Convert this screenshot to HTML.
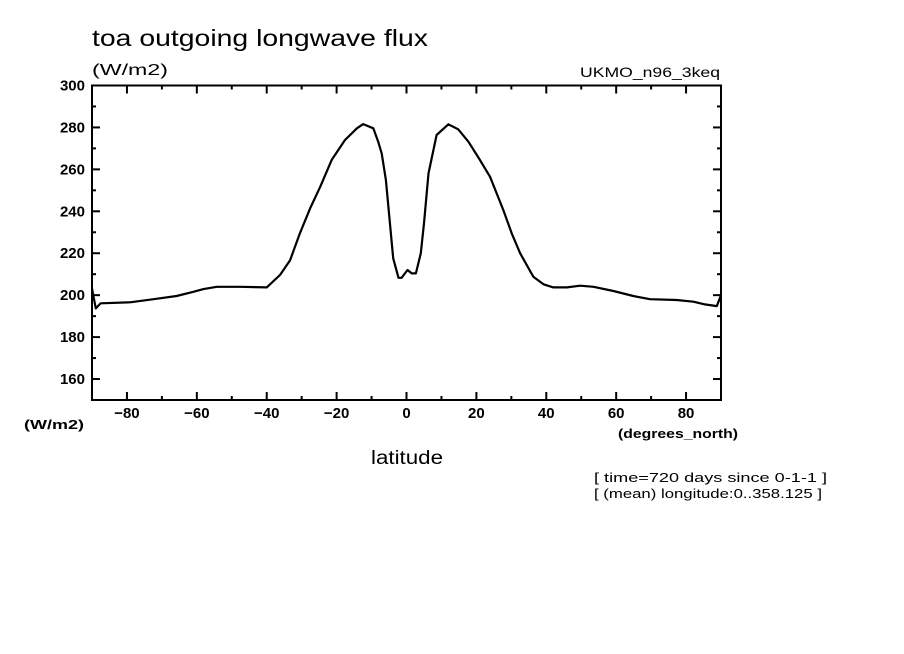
<!DOCTYPE html>
<html><head><meta charset="utf-8"><style>
body{margin:0;background:#fff;}
svg{display:block;font-family:"Liberation Sans",sans-serif;}
</style></head><body>
<svg id="chart" width="904" height="654" viewBox="0 0 904 654">
<rect width="904" height="654" fill="#fff"/>
<text x="92" y="46" font-size="23" textLength="336" lengthAdjust="spacingAndGlyphs">toa outgoing longwave flux</text>
<text x="92" y="75" font-size="16" textLength="76" lengthAdjust="spacingAndGlyphs">(W/m2)</text>
<text x="580" y="77" font-size="14" textLength="140" lengthAdjust="spacingAndGlyphs">UKMO_n96_3keq</text>
<text x="24" y="429" font-size="13" font-weight="bold" textLength="60" lengthAdjust="spacingAndGlyphs">(W/m2)</text>
<text x="618" y="438" font-size="13" font-weight="bold" textLength="120" lengthAdjust="spacingAndGlyphs">(degrees_north)</text>
<text x="371" y="464" font-size="19" textLength="72" lengthAdjust="spacingAndGlyphs">latitude</text>
<text x="594" y="482" font-size="12.5" textLength="233" lengthAdjust="spacingAndGlyphs">[ time=720 days since 0-1-1 ]</text>
<text x="594" y="498" font-size="12.5" textLength="228" lengthAdjust="spacingAndGlyphs">[ (mean) longitude:0..358.125 ]</text>
<g id="axes"></g>
<path id="series" fill="none" stroke="#000" stroke-width="2.2" stroke-linejoin="round"/>
<rect x="92" y="85.5" width="629" height="314.5" fill="none" stroke="#000" stroke-width="2"/>
</svg>
<script>
const lats = [-90,-88.9,-87.5,-79.1,-72.4,-65.8,-61,-58.1,-54.3,-47.6,-40,-36.2,-33.3,-30.5,-27.6,-24.7,-21.4,-17.6,-14.2,-12.4,-9.5,-8.1,-7.1,-5.9,-3.8,-2.3,-1.4,0.3,1.5,2.7,4.1,5,6.3,8.6,12,14.8,17.7,21,23.9,27.7,30.1,32.5,36.3,39.2,42,45.9,49.7,53.5,59.2,64.9,69.7,77.3,82.1,85.4,88.8,90];
const flux = [203.2,193.7,196.1,196.6,198.1,199.6,201.6,202.9,204,204,203.7,209.6,216.7,229.5,241.4,251.7,264.5,274,279.6,281.6,279.6,273.2,267.6,254.9,217.6,208.3,208.3,212,210.4,210.4,220,234.3,258.1,276.4,281.5,279.1,273.2,264.5,256.5,240.6,229.5,220,208.8,205.2,203.7,203.7,204.5,204,202,199.6,198.1,197.7,196.9,195.6,194.8,200];
const yTickLabels = [160,180,200,220,240,260,280,300];
const xTickLabels = [-80,-60,-40,-20,0,20,40,60,80];
const X0=92,X1=721,Y0=85.5,Y1=400,XMIN=-90,XMAX=90,YMIN=150,YMAX=300;
function xs(v){return X0+(v-XMIN)/(XMAX-XMIN)*(X1-X0);}
function ys(v){return Y1-(v-YMIN)/(YMAX-YMIN)*(Y1-Y0);}
const NS="http://www.w3.org/2000/svg";
const g=document.getElementById('axes');
function line(x1,y1,x2,y2,name){const l=document.createElementNS(NS,'line');l.setAttribute('x1',x1);l.setAttribute('y1',y1);l.setAttribute('x2',x2);l.setAttribute('y2',y2);l.setAttribute('stroke','#000');l.setAttribute('stroke-width','2');


g.appendChild(l);}
function text(x,y,s,anchor,name){const t=document.createElementNS(NS,'text');t.setAttribute('x',x);t.setAttribute('y',y);t.setAttribute('font-size','15');t.setAttribute('font-weight','bold');t.setAttribute('text-anchor',anchor);t.textContent=s;


g.appendChild(t);}
for(let v=YMIN+10;v<YMAX;v+=10){const y=ys(v);const L=(v%20===0)?8:4;line(X0,y,X0+L,y,'y-tick');line(X1,y,X1-L,y,'y-tick-right');}
for(let v=XMIN+10;v<XMAX;v+=10){const x=xs(v);const L=(v%20===0)?8:4;line(x,Y1,x,Y1-L,'x-tick');line(x,Y0,x,Y0+L,'x-tick-top');}
yTickLabels.forEach(v=>text(85,ys(v)+5,String(v),'end','y-tick-label'));
xTickLabels.forEach(v=>text(xs(v),418,String(v).replace('-','\u2212'),'middle','x-tick-label'));
document.getElementById('series').setAttribute('d',lats.map((la,i)=>(i?'L':'M')+xs(la).toFixed(1)+' '+ys(flux[i]).toFixed(1)).join(' '));
</script>
</body></html>
